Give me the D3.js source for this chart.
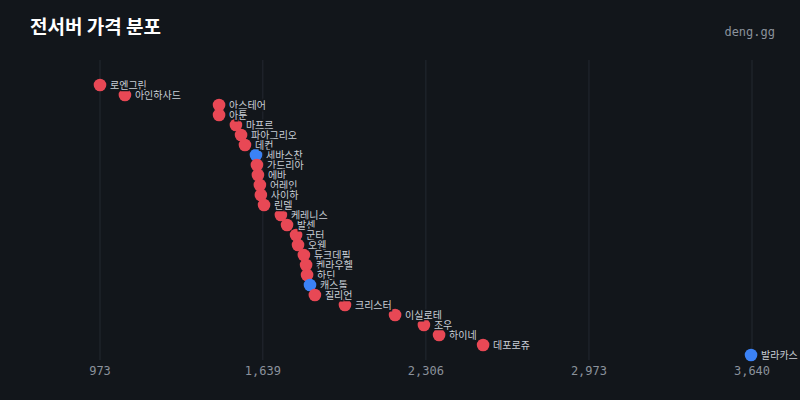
<!DOCTYPE html><html><head><meta charset="utf-8"><script src="https://cdn.jsdelivr.net/npm/d3@7"></script>
<style>body{margin:0;background:#12161b}</style></head><body><svg id="c" width="800" height="400"></svg><script>
const names=["로엔그린","아인하사드","아스테어","아툰","마프르","파아그리오","데컨","세바스찬","가드리아","에바","어레인","사이하","린델","케레니스","발센","군터","오웬","듀크데필","켄라우헬","하딘","캐스톨","질리언","크리스터","이실로테","조우","하이네","데포로쥬","발라카스"];
const prices=[973,1075,1460,1460,1529,1550,1566,1611,1615,1619,1627,1631,1644,1713,1738,1775,1783,1807,1816,1820,1832,1852,1975,2180,2298,2360,2540,3636];
const highlight=["세바스찬","캐스톨","발라카스"];
const ticks=[973,1639,2306,2973,3640];
const svg=d3.select("#c");
svg.append("rect").attr("width",800).attr("height",400).attr("fill","#12161b");
const x=d3.scaleLinear().domain([973,3640]).range([100,752]);
const y=d3.scalePoint().domain(names).range([85,355]);
svg.selectAll(".g").data(ticks).join("line").attr("x1",d=>x(d)).attr("x2",d=>x(d)).attr("y1",60).attr("y2",360).attr("stroke","#232830").attr("stroke-width",1);
svg.selectAll(".t").data(ticks).join("text").attr("x",d=>x(d)).attr("y",375).attr("text-anchor","middle").attr("fill","#8b929c").attr("font-family","DejaVu Sans Mono").attr("font-size",12).text(d=>d3.format(",")(d));
svg.selectAll("circle").data(names).join("circle").attr("cx",(d,i)=>x(prices[i])).attr("cy",d=>y(d)).attr("r",6.3).attr("fill",d=>highlight.includes(d)?"#3b82f6":"#e84855");
svg.selectAll(".l").data(names).join("text").attr("x",(d,i)=>x(prices[i])+10).attr("y",d=>y(d)+4).attr("fill","#c9ced6").attr("stroke","#12161b").attr("stroke-width",3).attr("paint-order","stroke").attr("font-family","Noto Sans CJK KR").attr("font-size",10).text(d=>d);
svg.append("text").attr("x",30).attr("y",34).attr("fill","#fff").attr("font-family","Noto Sans CJK KR").attr("font-weight","bold").attr("font-size",19).text("전서버 가격 분포");
svg.append("text").attr("x",775).attr("y",36).attr("text-anchor","end").attr("fill","#8b929c").attr("font-family","DejaVu Sans Mono").attr("font-size",12).text("deng.gg");
</script></body></html>
